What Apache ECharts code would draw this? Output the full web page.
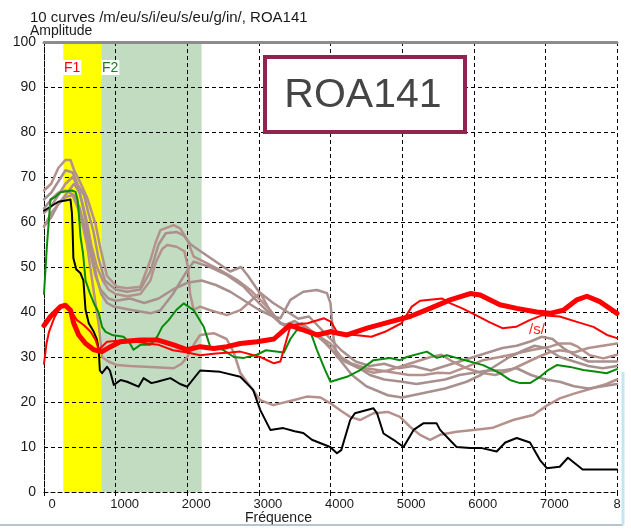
<!DOCTYPE html>
<html>
<head>
<meta charset="utf-8">
<script src="https://cdn.jsdelivr.net/npm/echarts@6/dist/echarts.min.js"></script>
<style>
  html, body { margin: 0; padding: 0; background: #fff; }
  #chart { width: 631px; height: 531px; }
</style>
</head>
<body>
<div id="chart"></div>
<script>
// Axis ticks and labels
const xTicks = [0, 1000, 2000, 3000, 4000, 5000, 6000, 7000, 8000];
const xTickLabels = ['0', '1000', '2000', '3000', '4000', '5000', '6000', '7000', '8'];
const yTicks = [0, 10, 20, 30, 40, 50, 60, 70, 80, 90, 100];

// Formant bands (Hz)
const bandF1 = [270, 800];
const bandF2 = [800, 2200];

// Spectra: [frequency Hz, amplitude]
const curveBlack = [[0,62.5],[100,63.5],[200,64.5],[300,64.8],[370,65],[390,62],[400,58],[410,52],[450,49.5],[510,48.6],[550,47],[580,40.5],[625,37.5],[695,35.6],[740,33.8],[765,31.5],[780,27],[810,26.4],[880,27.8],[920,27],[975,23.8],[1070,24.9],[1160,24.5],[1320,23.4],[1390,25.3],[1500,24.2],[1580,24.5],[1765,25.3],[1900,24],[2000,23.4],[2180,27],[2460,26.7],[2740,25.6],[2920,22.7],[3020,18.2],[3160,13.8],[3340,14.2],[3500,13.5],[3620,13.1],[3740,11.6],[3995,10],[4090,8.6],[4150,9.3],[4275,16],[4340,17.5],[4600,18.6],[4650,17.5],[4740,13],[4880,11.6],[5020,10],[5160,13.8],[5300,15.3],[5480,15.3],[5530,13.8],[5760,10],[5950,9.8],[6100,9.8],[6320,9],[6440,11],[6600,12],[6785,11],[6925,7.1],[7020,5.3],[7200,5.6],[7315,7.6],[7520,5],[8000,5]];

const curveGreen = [[0,44],[20,44],[40,54.5],[90,65],[160,65.6],[230,66.6],[390,67],[440,66.7],[470,64.9],[485,62],[510,56.7],[545,53],[580,47],[640,44.2],[695,42],[765,39.8],[810,36.7],[860,35.6],[950,34.9],[1110,34.5],[1185,33.4],[1250,31.6],[1345,32.7],[1485,32.7],[1580,34.5],[1650,36.7],[1740,38.2],[1850,40.5],[1950,41.9],[2090,40.4],[2230,36.7],[2320,32.3],[2500,31.6],[2650,30],[2790,29.8],[2970,30.5],[3100,31.5],[3350,31],[3440,34],[3530,36],[3720,35.6],[3810,31.6],[3925,27.1],[4000,24.5],[4230,25.6],[4415,27.1],[4600,29.3],[4830,29.8],[4970,29.3],[5065,30],[5345,31.2],[5485,29.8],[5625,30.4],[5760,29.8],[5945,29],[6130,28.2],[6365,26.4],[6505,24.9],[6645,24.2],[6785,24.2],[6925,25.6],[7040,27.1],[7160,28.2],[7345,27.8],[7530,27.1],[7715,26.7],[7855,26.4],[8000,27.3]];

const curveRedThick = [[0,37],[90,39],[230,41.2],[300,41.5],[370,40.4],[415,37.5],[485,34.9],[580,33],[695,31.6],[810,31.2],[930,32.3],[1065,33.4],[1345,33.8],[1580,33.8],[1810,32.7],[2000,31.6],[2180,32.3],[2370,31.9],[2555,32.3],[2740,33],[2975,33.4],[3210,34],[3430,37.1],[3620,36],[3810,34.9],[4000,35.6],[4230,34.9],[4510,36.4],[4830,37.8],[5110,39],[5390,40.8],[5670,42.7],[5950,44.1],[6090,43.8],[6365,41.6],[6600,40.8],[6880,40],[7065,39.7],[7250,40.4],[7440,42.7],[7580,43.5],[7760,42.3],[8000,39.7]];

const curveRedThin = [[0,28.5],[35,33],[70,35.6],[140,38.6],[230,41.2],[300,41.2],[370,40.4],[460,38.2],[555,37.1],[650,35.6],[720,33.8],[765,31.6],[880,33.4],[1160,33.8],[1440,33],[1600,32.7],[1800,31.5],[2000,31],[2180,30.4],[2400,30.8],[2600,31],[2740,31.2],[3020,30],[3210,28.6],[3300,29],[3445,37.1],[3680,37.5],[3910,38.6],[4010,37.8],[4100,35.3],[4340,34.9],[4570,34.5],[4760,35.6],[4990,37.5],[5135,41.2],[5250,42.5],[5420,42.8],[5560,43],[5675,41.9],[5840,40.8],[6030,39.3],[6210,37.8],[6400,36.4],[6590,36.7],[6780,38.2],[6960,39.3],[7200,39],[7440,37.8],[7670,36.7],[7860,34.9],[8000,34.2]];

const curveBrown1 = [[0,67],[100,68.5],[200,72],[300,73.8],[370,73.8],[420,71.5],[500,69],[600,65.5],[650,63],[720,59.5],[790,54],[880,48],[1020,45.6],[1160,45.3],[1345,45.6],[1485,51.5],[1560,55.5],[1625,58.2],[1810,59.3],[1900,58.6],[2000,56],[2090,52.3],[2230,51.2],[2460,49.3],[2700,47.1],[2880,44.9],[3020,42.7],[3160,40.4],[3300,37.5],[3450,36.5],[3600,37.5],[3800,35],[4000,33],[4150,30],[4300,28.5],[4500,27.5],[4700,27],[4900,26.5],[5100,26],[5300,26],[5500,26.5],[5670,26.4],[5900,27.8],[6130,29.3],[6365,30],[6600,30.8],[6830,31.6],[7065,32.3],[7200,33],[7350,33],[7450,32.3],[7620,30.4],[7810,29.7],[8000,30.5]];

const curveBrown2 = [[0,65],[100,66.5],[200,69],[300,71.5],[400,71],[480,68],[560,66],[620,62],[690,58],[760,52],[850,47],[1000,45],[1160,44.5],[1345,45],[1485,49],[1600,55],[1700,57.5],[1850,57.8],[1950,57],[2050,55],[2140,54],[2370,51.5],[2600,49],[2750,50],[2850,48],[3000,44.5],[3200,42],[3400,40],[3550,38.5],[3700,39],[3850,36.5],[4000,34],[4150,31.5],[4350,29],[4550,28],[4750,28.5],[4950,27.5],[5150,28],[5400,27],[5600,28],[5800,29],[6000,30],[6200,31],[6400,32],[6600,32.5],[6800,33.5],[6950,34.5],[7100,34],[7250,32],[7400,30.5],[7600,29],[7800,29],[8000,29]];

const curveBrown3 = [[0,62],[100,63.5],[200,66],[300,68.5],[400,70],[470,68],[540,64],[600,60],[660,55],[740,50],[820,47],[900,45],[1000,44],[1160,43.5],[1345,44],[1485,47],[1560,51],[1650,54],[1720,54.9],[1850,54.5],[1960,53.5],[2010,50],[2040,44],[2090,40.5],[2180,41.2],[2320,40.4],[2555,39.3],[2740,40.4],[2925,43],[3020,44.2],[3100,41.9],[3200,39],[3300,37.5],[3450,37],[3600,36],[3750,35.5],[3900,33.5],[4050,31],[4200,29],[4400,27.5],[4600,26.5],[4800,27],[5000,28],[5200,29],[5400,30],[5550,30.5],[5700,29],[5900,27.5],[6100,26.5],[6300,26],[6500,27],[6700,28.5],[6900,30],[7050,31],[7200,31.5],[7400,31],[7600,32],[7800,32.5],[8000,33]];

const curveBrown4 = [[0,59],[100,61],[200,64],[300,66],[420,68.5],[500,66.5],[560,62],[620,57],[680,52],[740,47.5],[800,44],[880,42],[975,41.2],[1200,40.5],[1485,39.7],[1625,40.4],[1800,44],[1975,48.6],[2090,51.2],[2320,50],[2555,48.2],[2790,45.6],[3000,42],[3200,39],[3350,37],[3500,38],[3650,36.5],[3800,35],[3950,33],[4100,30],[4300,26],[4500,23.5],[4800,21.5],[5000,21],[5300,22],[5600,23],[5900,24.5],[6100,26],[6300,28],[6500,30],[6700,31.5],[6850,32.5],[7000,32],[7200,30],[7400,29],[7600,28],[7800,27.5],[8000,28]];

const curveBrown5 = [[0,59],[100,62],[200,64],[300,65.5],[400,66],[500,62],[600,55],[700,44],[770,36.5],[810,30],[900,29],[1020,28.2],[1200,28],[1485,27.8],[1810,27.5],[1920,28.5],[2000,30],[2100,33],[2180,34.9],[2370,35.3],[2550,34],[2650,31],[2740,26.5],[2830,24.5],[2925,22.5],[3020,20.4],[3200,19.3],[3480,20.4],[3670,21.2],[3860,21],[4000,19.7],[4150,18],[4275,16.7],[4415,16],[4600,17.5],[4800,17.8],[4970,16.7],[5110,14.5],[5250,12.7],[5390,11.6],[5530,12.7],[5760,13.4],[5995,13.8],[6270,14.3],[6550,16],[6830,17.1],[7020,19.2],[7200,20.8],[7390,21.8],[7620,22.9],[7855,24],[8000,25]];

const curveBrown6 = [[0,63],[100,65],[200,66.5],[300,67],[420,66],[500,63],[580,58],[650,53],[720,48],[790,45],[900,43],[1000,42.5],[1200,43],[1400,42],[1600,43],[1800,45],[2000,46.5],[2200,47],[2400,46],[2600,44.5],[2800,42.5],[3000,40.5],[3200,39],[3300,38.6],[3440,42.7],[3620,44.5],[3810,44.9],[3950,44.2],[4000,41.9],[4040,34.5],[4090,30],[4180,29.3],[4350,28],[4550,26],[4750,25],[5000,24.5],[5200,24],[5400,24.5],[5600,25],[5800,26],[6000,26.5],[6200,27],[6400,27],[6600,27.5],[6800,26],[7000,25],[7200,24.5],[7400,23.5],[7600,23],[7800,23.5],[8000,24]];

const FONT = 'Liberation Sans, Arial, sans-serif';

function curve(name, data, color, width) {
  return {
    name, type: 'line', data, showSymbol: false, silent: true, z: 3,
    lineStyle: { color, width, join: 'round', cap: 'round' }
  };
}

const brownA = '#b5918c';
const brownB = '#a8908e';

const series = [
  {
    name: 'bands', type: 'line', data: [], silent: true,
    markArea: {
      silent: true, z: 1,
      label: { show: false },
      data: [
        [{ xAxis: bandF1[0], itemStyle: { color: '#ffff00', opacity: 1 } }, { xAxis: bandF1[1] }],
        [{ xAxis: bandF2[0], itemStyle: { color: '#c2dcc2', opacity: 1 } }, { xAxis: bandF2[1] }]
      ]
    }
  },
  curve('b1', curveBrown1, brownA, 2.5),
  curve('b2', curveBrown2, brownB, 2.5),
  curve('b3', curveBrown3, brownA, 2.5),
  curve('b4', curveBrown4, brownB, 2.5),
  curve('b5', curveBrown5, brownA, 2.5),
  curve('b6', curveBrown6, brownB, 2.5),
  curve('black', curveBlack, '#000000', 2),
  curve('green', curveGreen, '#0a8a0a', 2),
  curve('redThin', curveRedThin, '#ff0000', 2),
  curve('redThick', curveRedThick, '#ff0000', 5)
];

const chart = echarts.init(document.getElementById('chart'), null, { renderer: 'canvas' });
chart.setOption({
  animation: false,
  backgroundColor: '#ffffff',
  grid: { left: 44, right: 14, top: 42, bottom: 39 },
  xAxis: [{
    type: 'value', min: xTicks[0], max: xTicks[xTicks.length - 1], interval: 1000, z: 1.5,
    axisLine: { show: true, lineStyle: { color: '#000', type: [4, 3], width: 1 } },
    axisTick: { show: true, length: 4, lineStyle: { color: '#000' } },
    splitLine: { show: true, lineStyle: { color: '#000', type: [4, 3], width: 1 } },
    axisLabel: {
      margin: 6, color: '#1a1a1a', fontFamily: FONT, fontSize: 13,
      // a leading spacer token nudges the labels right of their tick
      formatter: v => {
        const i = xTicks.indexOf(v);
        const t = i >= 0 ? xTickLabels[i] : '';
        if (i === xTicks.length - 1) return t;
        return (i === 0 ? '{s0| }' : '{s| }') + '{n|' + t + '}';
      },
      rich: {
        s0: { width: 16, fontSize: 13 },
        s: { width: 18, fontSize: 13 },
        n: { fontFamily: FONT, fontSize: 13, color: '#1a1a1a' }
      }
    }
  }, {
    type: 'value', position: 'top', min: 0, max: 8000, z: 1.5,
    axisLine: { show: true, onZero: false, lineStyle: { color: '#8c8c8c', width: 3 } },
    axisTick: { show: false }, axisLabel: { show: false }, splitLine: { show: false }
  }],
  yAxis: {
    type: 'value', min: yTicks[0], max: yTicks[yTicks.length - 1], interval: 10, z: 1.5,
    axisLine: { show: true, lineStyle: { color: '#000', type: [4, 3], width: 1 } },
    axisTick: { show: false },
    splitLine: { show: true, lineStyle: { color: '#000', type: [4, 3], width: 1 } },
    axisLabel: { margin: 8, color: '#1a1a1a', fontFamily: FONT, fontSize: 14 }
  },
  series,
  graphic: [
    { type: 'text', left: 30, top: 10, style: { text: '10 curves /m/eu/s/i/eu/s/eu/g/in/, ROA141', fontFamily: FONT, fontSize: 15, fill: '#1a1a1a' } },
    { type: 'text', left: 30, top: 24, style: { text: 'Amplitude', fontFamily: FONT, fontSize: 14, fill: '#1a1a1a' } },
    { type: 'text', left: 245, top: 511, style: { text: 'Fréquence', fontFamily: FONT, fontSize: 14, fill: '#1a1a1a' } },
    { type: 'text', left: 63, top: 60, z: 20, style: { text: 'F1', fontFamily: FONT, fontSize: 14, fill: '#ff0000', backgroundColor: '#fff', padding: [1, 1, 0, 1] } },
    { type: 'text', left: 101, top: 60, z: 20, style: { text: 'F2', fontFamily: FONT, fontSize: 14, fill: '#1a7f1a', backgroundColor: '#fff', padding: [1, 1, 0, 1] } },
    { type: 'rect', z: 20, shape: { x: 265, y: 57, width: 200, height: 75 }, style: { fill: '#fff', stroke: '#8e2450', lineWidth: 4 } },
    { type: 'text', z: 21, x: 363, y: 96, style: { text: 'ROA141', fontFamily: FONT, fontSize: 41, fill: '#454545', align: 'center', verticalAlign: 'middle' } },
    { type: 'text', z: 20, left: 529, top: 322, style: { text: '/s/', fontFamily: FONT, fontSize: 15, fill: '#ff2020' } },
    { type: 'line', z: 20, shape: { x1: 0, y1: 525, x2: 623, y2: 525 }, style: { stroke: '#9fb0bc', lineWidth: 1.5 } },
    { type: 'line', z: 20, shape: { x1: 623, y1: 372, x2: 623, y2: 525 }, style: { stroke: '#c4e6f0', lineWidth: 3 } }
  ]
});
</script>
</body>
</html>
